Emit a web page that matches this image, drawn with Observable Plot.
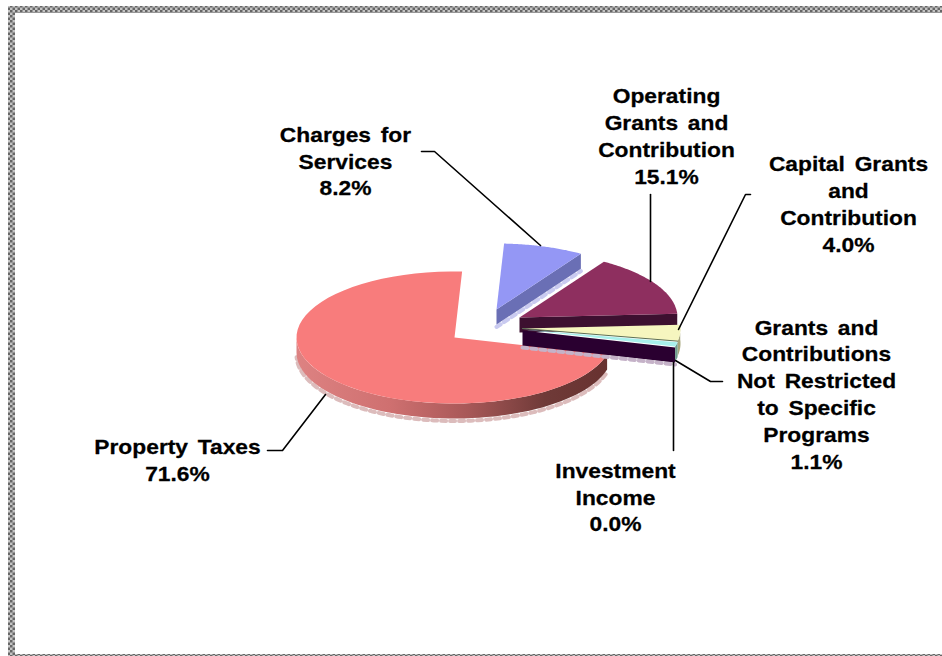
<!DOCTYPE html>
<html>
<head>
<meta charset="utf-8">
<style>
  html, body { margin: 0; padding: 0; background: #fff; }
  svg { display: block; }
  text { word-spacing: 3px; }
</style>
<script src="https://cdn.jsdelivr.net/npm/d3@7"></script>
<script src="https://cdn.jsdelivr.net/npm/@observablehq/plot@0.6"></script>
</head>
<body>
<div id="chart"></div>
<script>
// Revenue sources, share of the total in percent
const categories = [
  "Property Taxes",
  "Charges for Services",
  "Operating Grants and Contribution",
  "Capital Grants and Contribution",
  "Grants and Contributions Not Restricted to Specific Programs",
  "Investment Income"
];
const shares = [71.6, 8.2, 15.1, 4.0, 1.1, 0.0];

// Wrapped label text, one entry per category
const labelLines = [
  ["Property Taxes"],
  ["Charges for", "Services"],
  ["Operating", "Grants and", "Contribution"],
  ["Capital Grants", "and", "Contribution"],
  ["Grants and", "Contributions", "Not Restricted", "to Specific", "Programs"],
  ["Investment", "Income"]
];

// Slice appearance
const topColors = ["#f87c7c", "#9497f5", "#8e2f5f", "#f6f6bf", "#a8f0ec", "#2a0030"];

// Layout of the tilted pie, in page pixels
const width = 942, height = 656;
const radiusX = 158, radiusY = 66, depth = 15;
const startAngle = 105;
const apexes = [[454, 337], [496, 309], [519, 317], [522, 328], [522, 329], [522, 330]];
const labelAnchors = [[177, 461], [345, 162], [666, 137], [848, 205], [816, 395], [615, 498]];
const leaders = [
  [[267, 450], [282, 450], [325, 394]],
  [[421, 151], [434, 151], [540, 245]],
  [[650, 194], [650, 281]],
  [[750, 194], [745, 194], [678, 329]],
  [[722, 381], [710, 381], [675, 360]],
  [[673, 362], [673, 450]]
];
const labelStretch = 1.14;

// Angular extent of each slice, clockwise from north
const spans = [];
{
  let angle = startAngle;
  for (const share of shares) {
    spans.push([angle, angle + share * 3.6]);
    angle += share * 3.6;
  }
}

const rimPoint = (i, a, drop = 0) => {
  const r = a * Math.PI / 180;
  return {
    x: apexes[i][0] + radiusX * Math.sin(r),
    y: apexes[i][1] - radiusY * Math.cos(r) + drop
  };
};
const arc = (i, a0, a1, drop = 0) =>
  d3.range(0, 61).map(k => rimPoint(i, a0 + (a1 - a0) * k / 60, drop));
const apex = (i, drop = 0) => ({x: apexes[i][0], y: apexes[i][1] + drop});

const face = (points, fill) => Plot.line(points, {x: "x", y: "y", fill, stroke: "none"});
const edge = (points, stroke, strokeWidth, strokeDasharray) =>
  Plot.line(points, {x: "x", y: "y", stroke, strokeWidth, strokeDasharray});
const topFace = i => face([apex(i), ...arc(i, ...spans[i])], topColors[i]);
// Vertical wall under the arc between two angles
const arcWall = (i, a0, a1, fill) =>
  face([...arc(i, a0, a1), ...arc(i, a1, a0, depth)], fill);
// Vertical wall under the straight cut at one angle
const cutWall = (i, a, fill) =>
  face([apex(i), rimPoint(i, a), rimPoint(i, a, depth), apex(i, depth)], fill);

const defs = () => {
  const d = d3.create("svg:defs");
  const rim = d.append("linearGradient").attr("id", "rimShade");
  for (const [offset, color] of [[0, "#dd8282"], [0.3, "#cf7070"], [0.55, "#a85858"], [0.8, "#6f3a38"], [1, "#683230"]]) {
    rim.append("stop").attr("offset", offset).attr("stop-color", color);
  }
  const dither = d.append("pattern").attr("id", "frameDither")
    .attr("patternUnits", "userSpaceOnUse").attr("width", 5).attr("height", 5);
  dither.append("rect").attr("width", 5).attr("height", 5).attr("fill", "#c4c4c4");
  dither.append("rect").attr("width", 2.5).attr("height", 2.5).attr("fill", "#666");
  dither.append("rect").attr("x", 2.5).attr("y", 2.5).attr("width", 2.5).attr("height", 2.5).attr("fill", "#666");
  return d.node();
};

// The labels are set in a horizontally widened bold sans
const widenText = (index, scales, values, dimensions, context, next) => {
  const group = next(index, scales, values, dimensions, context);
  d3.select(group).selectAll("text").each(function () {
    const t = this.getAttribute("transform") || "";
    this.setAttribute("transform", `${t} scale(${labelStretch},1)`);
  });
  return group;
};

const labels = categories.map((c, i) => ({
  text: [...labelLines[i], shares[i].toFixed(1) + "%"].join("\n"),
  x: labelAnchors[i][0],
  y: labelAnchors[i][1]
}));

const chart = Plot.plot({
  width, height,
  margin: 0,
  x: {domain: [0, width], range: [0, width], axis: null},
  y: {domain: [0, height], range: [0, height], axis: null},
  style: {background: "#fff"},
  marks: [
    defs,
    // Dithered window frame; the right side runs off the page
    Plot.rect([{x1: 11.5, x2: 970, y1: 9.5, y2: 657.5}], {
      x1: "x1", x2: "x2", y1: "y1", y2: "y2",
      fill: "none", stroke: "url(#frameDither)", strokeWidth: 7
    }),

    // Property Taxes
    edge(arc(0, spans[0][0] + 2, 268, depth + 2.5), "#dcbcbc", 4, "5 4"),
    arcWall(0, spans[0][0], 270, "url(#rimShade)"),
    topFace(0),

    // Charges for Services
    edge([apex(1, depth + 2.5), rimPoint(1, spans[1][1], depth + 2.5)], "#c9caf0", 4, "5 4"),
    cutWall(1, spans[1][1], "#6a6fb5"),
    topFace(1),

    // Operating Grants and Contribution
    cutWall(2, spans[2][1], "#3d1030"),
    topFace(2),

    // Capital Grants, Unrestricted Grants and the empty Investment Income slice
    edge([apex(5, depth + 2), rimPoint(5, spans[5][1], depth + 2)], "#c5b2c8", 4, "5 4"),
    cutWall(5, spans[5][1], topColors[5]),
    arcWall(3, spans[3][0], spans[3][1], "#a6a67c"),
    arcWall(4, spans[4][0], spans[4][1], "#6f9c8c"),
    topFace(3),
    topFace(4),
    edge([apex(3), rimPoint(3, spans[3][1])], "#5c6f55", 1),

    // Leader lines and labels
    ...leaders.map(path => Plot.line(path, {x: d => d[0], y: d => d[1], stroke: "#000", strokeWidth: 1.6})),
    Plot.text(labels, {
      x: "x", y: "y", text: "text",
      dy: -2.5,
      fontFamily: "Liberation Sans",
      fontWeight: "bold",
      fontSize: 20,
      lineHeight: 1.34,
      fill: "#000",
      stroke: "#000",
      strokeWidth: 0.25,
      render: widenText
    })
  ]
});
document.getElementById("chart").append(chart);
</script>
</body>
</html>
